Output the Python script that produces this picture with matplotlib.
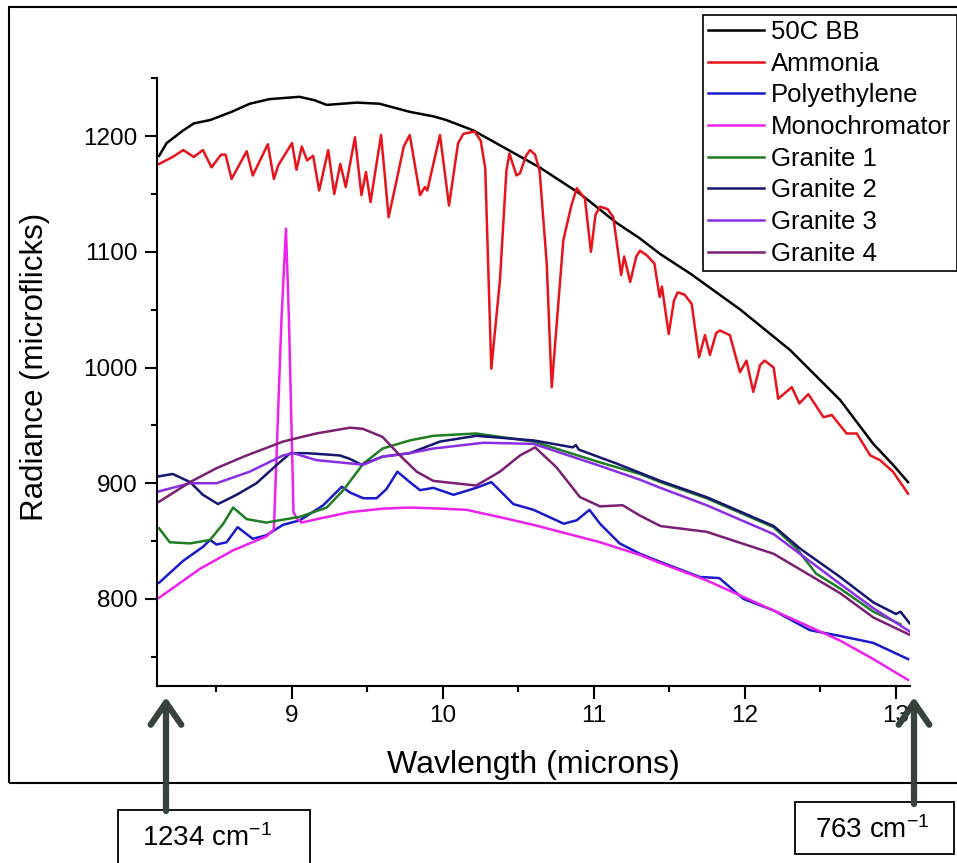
import matplotlib
matplotlib.use("Agg")
import matplotlib.pyplot as plt
from matplotlib.patches import Rectangle, FancyArrowPatch
from matplotlib.ticker import MultipleLocator

plt.rcParams['font.family'] = ['Liberation Sans', 'DejaVu Sans']
plt.rcParams['mathtext.default'] = 'regular'

# ---------------- data (wavelength in microns, radiance in microflicks) -------------
bb_x = [8.12, 8.17, 8.28, 8.35, 8.46, 8.60, 8.72, 8.85, 9.05, 9.15, 9.23, 9.43, 9.58,
        9.78, 9.94, 10.02, 10.20, 10.42, 10.64, 10.91, 11.15, 11.30, 11.44, 11.64,
        11.97, 12.30, 12.63, 12.85, 12.98, 13.08]
bb_y = [1183, 1194, 1205, 1211, 1214, 1221, 1228, 1232, 1234, 1231, 1227, 1229, 1228,
        1221, 1217, 1214, 1205, 1189, 1173, 1150, 1125, 1112, 1098, 1081,
        1050, 1015, 972, 934, 916, 901]

amm_x = [8.12, 8.21, 8.28, 8.35, 8.41, 8.467, 8.53, 8.56, 8.60, 8.70, 8.74, 8.84, 8.88,
         8.91, 9.00, 9.03, 9.065, 9.10, 9.14, 9.18, 9.24, 9.28, 9.32, 9.356, 9.417,
         9.46, 9.49, 9.52, 9.59, 9.64, 9.69, 9.74, 9.78, 9.848, 9.88, 9.896, 9.98,
         10.04, 10.10, 10.135, 10.21, 10.25, 10.28, 10.32, 10.377, 10.42, 10.44,
         10.487, 10.51, 10.55, 10.576, 10.61, 10.64, 10.687, 10.72, 10.797, 10.85,
         10.886, 10.94, 10.98, 11.01, 11.04, 11.09, 11.128, 11.18,
         11.20, 11.24, 11.28, 11.305, 11.35, 11.40, 11.435, 11.45, 11.495, 11.53,
         11.555, 11.60, 11.647, 11.696, 11.735, 11.768, 11.81, 11.834, 11.90, 11.967,
         12.01, 12.055, 12.10, 12.13, 12.19, 12.22,
         12.31, 12.36, 12.42, 12.52, 12.575, 12.673, 12.74, 12.83, 12.894, 12.98, 13.08]
amm_y = [1176, 1182, 1188, 1182, 1188, 1173, 1184, 1184, 1163, 1187, 1166, 1193, 1163,
         1175, 1194, 1171, 1191, 1179, 1183, 1153, 1188, 1150, 1176, 1156, 1199,
         1149, 1169, 1143, 1201, 1130, 1160, 1191, 1201, 1149, 1156, 1153, 1201,
         1140, 1194, 1202, 1204, 1196, 1172, 999, 1075, 1170, 1185,
         1166, 1168, 1183, 1188, 1184, 1170, 1090, 983, 1110, 1140,
         1155, 1146, 1100, 1132, 1139, 1137, 1130, 1080,
         1096, 1074, 1096, 1101, 1097, 1090, 1061, 1070, 1029, 1058,
         1065, 1063, 1055, 1009, 1028, 1011, 1030, 1032, 1028, 996,
         1006, 979, 1002, 1006, 1000, 973,
         983, 969, 977, 957, 959, 943, 943, 924, 920, 910, 891]

poly_x = [8.12, 8.28, 8.41, 8.457, 8.50, 8.567, 8.64, 8.74, 8.83, 8.94, 9.053, 9.207,
          9.33, 9.384, 9.473, 9.56, 9.626, 9.698, 9.78, 9.848, 9.936, 10.07, 10.22,
          10.32, 10.466, 10.60, 10.80, 10.886, 10.97, 11.04, 11.17, 11.305, 11.44,
          11.70, 11.83, 11.99, 12.19, 12.43, 12.63, 12.85, 13.08]
poly_y = [814, 833, 845, 851, 847, 849, 862, 852, 855, 864, 868, 881,
          897, 892, 887, 887, 895, 910, 901, 894, 896, 890, 896,
          901, 882, 877, 865, 868, 877, 865, 848, 839, 832,
          819, 818, 800, 790, 773, 768, 762, 748]

mono_x = [8.12, 8.39, 8.61, 8.83, 8.88, 8.93, 8.96, 8.98, 9.01, 9.03, 9.064, 9.20,
          9.384, 9.60, 9.78, 10.00, 10.157, 10.40, 10.60, 11.04, 11.305, 11.44,
          11.746, 12.19, 12.63, 12.85, 13.08]
mono_y = [801, 826, 842, 854, 860, 1041, 1120, 1041, 875, 870, 866, 870,
          875, 878, 879, 878, 877, 870, 864, 849, 838, 831,
          816, 790, 764, 748, 730]

g1_x = [8.12, 8.19, 8.325, 8.457, 8.545, 8.61, 8.70, 8.83, 9.053, 9.23, 9.34, 9.473,
        9.60, 9.78, 9.936, 10.22, 10.60, 11.04, 11.305, 11.44, 11.746, 12.19, 12.34,
        12.47, 12.63, 12.74, 12.85, 13.03]
g1_y = [861, 849, 848, 851, 865, 879, 869, 866, 871, 879, 894, 917,
        930, 937, 941, 943, 936, 918, 908, 901, 887, 862, 844,
        822, 809, 799, 789, 778]

g2_x = [8.12, 8.21, 8.325, 8.41, 8.51, 8.633, 8.765, 8.90, 8.99, 9.097, 9.318, 9.384,
        9.46, 9.60, 9.78, 9.98, 10.22, 10.60, 10.86, 10.88, 10.90, 11.15, 11.44,
        11.746, 12.19, 12.37, 12.63, 12.85, 13.00, 13.03, 13.09]
g2_y = [906, 908, 901, 890, 882, 890, 900, 916, 926, 926, 924, 921,
        916, 923, 926, 936, 941, 937, 931, 933, 929, 917, 902,
        888, 863, 843, 819, 797, 787, 789, 779]

g3_x = [8.12, 8.325, 8.50, 8.72, 8.94, 9.01, 9.16, 9.473, 9.60, 9.78, 9.936, 10.27,
        10.60, 11.04, 11.305, 11.44, 11.746, 12.19, 12.63, 12.85, 13.09]
g3_y = [893, 900, 900, 910, 924, 926, 920, 916, 923, 926, 930, 935,
        934, 915, 903, 896, 881, 856, 813, 792, 772]

g4_x = [8.12, 8.325, 8.50, 8.68, 8.94, 9.16, 9.384, 9.47, 9.60, 9.715, 9.826, 9.936,
        10.22, 10.377, 10.51, 10.61, 10.75, 10.907, 11.04, 11.19, 11.305, 11.44,
        11.746, 12.19, 12.63, 12.85, 13.09]
g4_y = [884, 901, 913, 923, 936, 943, 948, 947, 940, 924, 910, 902,
        898, 910, 924, 931, 914, 888, 880, 881, 872, 863,
        858, 839, 805, 784, 769]

labels = ["50C BB", "Ammonia", "Polyethylene", "Monochromator",
          "Granite 1", "Granite 2", "Granite 3", "Granite 4"]
colors = ["#000000", "#e8141c", "#1a1acc", "#ee22ee",
          "#1f7d24", "#161670", "#8a2ee6", "#7a1f74"]
series = [(bb_x, bb_y), (amm_x, amm_y), (poly_x, poly_y), (mono_x, mono_y),
          (g1_x, g1_y), (g2_x, g2_y), (g3_x, g3_y), (g4_x, g4_y)]

x_ticks = [9, 10, 11, 12, 13]
y_ticks = [800, 900, 1000, 1100, 1200]
xlim = (8.104, 13.093)
ylim = (725, 1250)

# ---------------- figure ----------------
W, H = 957, 863
fig = plt.figure(figsize=(W / 100, H / 100), dpi=100)
ax = fig.add_axes([156.7 / W, 1 - 685.7 / H, (910 - 156.7) / W, (685.7 - 78.3) / H])

for (xs, ys), lab, col in zip(series, labels, colors):
    ax.plot(xs, ys, color=col, lw=1.8, label=lab)

ax.set_xlim(*xlim)
ax.set_ylim(*ylim)
ax.set_xticks(x_ticks)
ax.set_yticks(y_ticks)
ax.xaxis.set_minor_locator(MultipleLocator(0.5))
ax.yaxis.set_minor_locator(MultipleLocator(50))
for s in ["top", "right"]:
    ax.spines[s].set_visible(False)
for s in ["left", "bottom"]:
    ax.spines[s].set_linewidth(1.5)
ax.tick_params(which="major", direction="out", length=9, width=1.5,
               labelsize=17.5, pad=5)
ax.tick_params(which="minor", direction="out", length=4.5, width=1.5)

ax.set_xlabel("Wavlength (microns)", fontsize=23)
ax.set_ylabel("Radiance (microflicks)", fontsize=22.5)
ax.xaxis.set_label_coords(0.5, -0.106)
ax.yaxis.set_label_coords(-0.142, 0.525)

leg = ax.legend(loc="upper right", bbox_to_anchor=(956.7 / W, 1 - 14.7 / H),
                bbox_transform=fig.transFigure, borderaxespad=0, frameon=True,
                fancybox=False, edgecolor="black", framealpha=1, fontsize=18.5,
                handlelength=2.2, handletextpad=0.27, labelspacing=0.3,
                borderpad=0.2)
leg.get_frame().set_linewidth(1.2)

# outer frame (right side runs off the image)
fig.add_artist(Rectangle((9.3 / W, 1 - 783 / H), 1.2, (783 - 7.3) / H,
                         transform=fig.transFigure, fill=False, lw=1.5, ec="black"))

# annotation boxes
fig.add_artist(Rectangle((118 / W, 1 - 880 / H), (310 - 118) / W, (880 - 810) / H,
                         transform=fig.transFigure, fill=False, lw=1.3, ec="black"))
fig.add_artist(Rectangle((795 / W, 1 - 854 / H), (954 - 795) / W, (854 - 802) / H,
                         transform=fig.transFigure, fill=False, lw=1.3, ec="black"))
fig.text(207 / W, 1 - 838 / H, r"1234 cm$^{-1}$", fontsize=20,
         ha="center", va="center")
fig.text(872 / W, 1 - 830 / H, r"763 cm$^{-1}$", fontsize=20,
         ha="center", va="center")

arrow_col = "#37433a"
for xpx, y0 in [(166, 811), (914, 804)]:
    fig.add_artist(FancyArrowPatch((xpx / W, 1 - y0 / H), (xpx / W, 1 - 697 / H),
                                   transform=fig.transFigure,
                                   arrowstyle="->,head_length=0.8,head_width=0.55",
                                   mutation_scale=20, lw=4.5, color=arrow_col,
                                   shrinkA=0, shrinkB=0))

fig.savefig("out.png", dpi=100)
